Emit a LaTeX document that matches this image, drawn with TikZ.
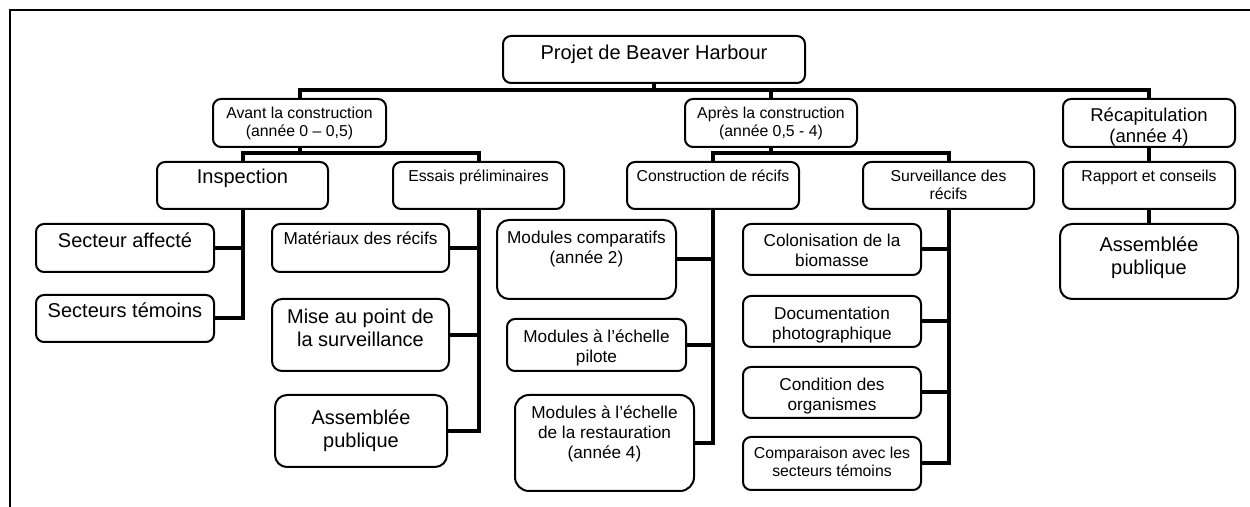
\documentclass[tikz,border=0pt]{standalone}
\usepackage{fontspec}
\setmainfont{Liberation Sans}
\usepackage{tikz}
\usetikzlibrary{positioning}

\begin{document}
\begin{tikzpicture}[x=0.5pt, y=-0.5pt,
        boite/.style={draw, line width=1pt, rounded corners=4pt, inner xsep=2pt, inner ysep=0pt, align=center},
        dim/.style n args={3}{minimum width=#1pt, text height=#2pt, text depth=#3pt},
        gros/.style={font=\fontsize{10}{11.5}\selectfont},
        recapf/.style={font=\fontsize{9.25}{10.6}\selectfont},
        moyen/.style={font=\fontsize{8.6}{9.9}\selectfont},
        petit/.style={font=\fontsize{7.9}{9.1}\selectfont},
        lien/.style={line width=2pt}]
        \useasboundingbox (0,0) rectangle (1250,507);
        \draw[line width=1pt] (10,507) |- (1250,10);

        % niveau 1 et 2
        \node[boite, gros, dim={151}{11.7}{11.8}] (proj) at (654, 59.5) {Projet de Beaver Harbour};
        \node[boite, petit, dim={86.5}{18.9}{5.1}] (avant) at (299.5, 123) {Avant la construction\\(année 0 – 0,5)};
        \node[boite, petit, dim={86}{18.9}{5.1}] (apres) at (771, 123) {Après la construction\\(année 0,5 - 4)};
        \node[boite, recapf, dim={86}{21.85}{2.15}] (recap) at (1149, 123) {Récapitulation\\(année 4)};

        % niveau 3
        \node[boite, gros, dim={85.5}{11}{12.5}] (insp) at (242.5, 185.5) {Inspection};
        \node[boite, petit, dim={85.5}{9.85}{13.65}] (essais) at (478.5, 185.5) {Essais préliminaires};
        \node[boite, petit, dim={86}{9.85}{13.65}] (constr) at (713, 185.5) {Construction de récifs};
        \node[boite, petit, dim={85.5}{18.95}{4.55}] (surv) at (948.5, 185.5) {Surveillance des\\récifs};
        \node[boite, petit, dim={86}{9.85}{13.65}] (rapport) at (1149, 185.5) {Rapport et conseils};

        % niveau 4
        \node[boite, gros, dim={89}{12}{12}] (secaff) at (125, 248) {Secteur affecté};
        \node[boite, gros, dim={89}{11.5}{12}] (sectem) at (125, 318.5) {Secteurs témoins};
        \node[boite, moyen, dim={88.5}{10.5}{13.5}] (mater) at (360.5, 248) {Matériaux des récifs};
        \node[boite, gros, rounded corners=5pt, dim={88.5}{23.85}{12.15}] (mise) at (360.5, 335) {Mise au point de\\la surveillance};
        \node[boite, gros, rounded corners=6pt, dim={86}{26.15}{9.85}] (assL) at (361, 431) {Assemblée\\publique};
        \node[boite, moyen, rounded corners=6pt, dim={89.5}{21.55}{17.95}] (modcomp) at (586.5, 259.5) {Modules comparatifs\\(année 2)};
        \node[boite, moyen, dim={89.5}{21.55}{4.45}] (modpil) at (596.5, 345) {Modules à l’échelle\\pilote};
        \node[boite, moyen, rounded corners=7pt, dim={89.5}{31.8}{16.2}] (modrest) at (604.5, 443) {Modules à l’échelle\\de la restauration\\(année 4)};
        \node[boite, moyen, dim={89}{21.05}{4.45}] (colon) at (832, 249.5) {Colonisation de la\\biomasse};
        \node[boite, moyen, dim={89}{21.7}{3.8}] (docu) at (832, 321.5) {Documentation\\photographique};
        \node[boite, moyen, dim={89}{21.7}{3.8}] (cond) at (832, 392.5) {Condition des\\organismes};
        \node[boite, petit, dim={89}{19.9}{6.6}] (compar) at (832, 463.5) {Comparaison avec les\\secteurs témoins};
        \node[boite, gros, rounded corners=6pt, dim={89}{25.3}{12.2}] (assR) at (1149, 261.5) {Assemblée\\publique};

        % liens
        \draw[lien] (proj.south) -- ++(0,8)
            (avant.north) -- ++(0,-8) -| (recap.north)
            (apres.north) -- ++(0,-8);
        \draw[lien] (avant.south) -- ++(0,7)
            (insp.north) -- ++(0,-8) -| (essais.north);
        \draw[lien] (apres.south) -- ++(0,7)
            (constr.north) -- ++(0,-8) -| (surv.north);
        \draw[lien] (recap) -- (rapport) -- (assR);
        \draw[lien] (insp.south) |- (secaff.east)
            (insp.south) |- (sectem.east);
        \draw[lien] (essais.south) |- (mater.east)
            (essais.south) |- (mise.east)
            (essais.south) |- (assL.east);
        \draw[lien] (constr.south) |- (modcomp.east)
            (constr.south) |- (modpil.east)
            (constr.south) |- (modrest.east);
        \draw[lien] (surv.south) |- (colon.east)
            (surv.south) |- (docu.east)
            (surv.south) |- (cond.east)
            (surv.south) |- (compar.east);
    \end{tikzpicture}
\end{document}
